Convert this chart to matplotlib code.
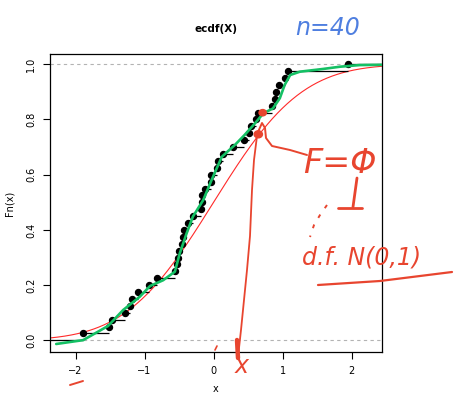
import math
import numpy as np
import matplotlib
matplotlib.use('Agg')
import matplotlib.pyplot as plt

# sample values (sorted)
sample_x = [-1.89, -1.52, -1.47, -1.29, -1.21, -1.18, -1.09, -0.94, -0.82, -0.565,
            -0.53, -0.52, -0.50, -0.46, -0.44, -0.43, -0.37, -0.30, -0.175, -0.17,
            -0.165, -0.12, -0.04, -0.03, 0.05, 0.06, 0.13, 0.28, 0.44, 0.51,
            0.54, 0.61, 0.65, 0.845, 0.89, 0.90, 0.95, 1.03, 1.08, 1.95]

# hand-drawn green curve over the ecdf
green_x = [-2.28, -1.89, -1.53, -1.31, -1.07, -0.92, -0.73, -0.56, -0.49, -0.39,
           -0.30, -0.15, -0.03, 0.12, 0.31, 0.45, 0.60, 0.72, 0.86, 0.96,
           1.03, 1.11, 1.25, 1.59, 1.83, 2.12, 2.44]
green_y = [-0.013, 0.001, 0.052, 0.11, 0.158, 0.197, 0.218, 0.249, 0.315, 0.388,
           0.448, 0.508, 0.58, 0.665, 0.708, 0.744, 0.786, 0.822, 0.84, 0.877,
           0.925, 0.961, 0.973, 0.983, 0.991, 0.997, 0.998]

xlim = (-2.37, 2.44)
ylim = (-0.042, 1.037)

RED = '#e8452f'
BLUE = '#4f7fe0'

fig = plt.figure(figsize=(4.59, 3.94), dpi=100)
ax = fig.add_axes([0.1089, 0.1066, 0.7233, 0.7563])
ax.set_xlim(*xlim)
ax.set_ylim(*ylim)

n = len(sample_x)
xs = np.array(sample_x)
ys = np.arange(1, n + 1) / n

# reference lines at 0 and 1
ax.axhline(0, color='#b3b3b3', lw=0.8, ls=(0, (3, 3)), zorder=1)
ax.axhline(1, color='#b3b3b3', lw=0.8, ls=(0, (3, 3)), zorder=1)

# normal cdf
grid = np.linspace(xlim[0], xlim[1], 400)
phi = [0.5 * (1 + math.erf(g / math.sqrt(2))) for g in grid]
ax.plot(grid, phi, color='#ff2a2a', lw=0.8, zorder=2)

# ecdf steps
right_ends = np.append(xs[1:], xlim[1])
ax.hlines(ys, xs, right_ends, color='black', lw=0.9, zorder=3)
ax.hlines(0, xlim[0], xs[0], color='black', lw=0.9, zorder=3)
ax.plot(xs, ys, 'o', color='black', ms=4.3, zorder=4)

# green curve
ax.plot(green_x, green_y, color='#14c064', lw=1.9, zorder=5, solid_capstyle='round')

ax.set_xticks([-2, -1, 0, 1, 2])
ax.set_xticklabels(['\u22122', '\u22121', '0', '1', '2'])
ax.set_yticks([0, 0.2, 0.4, 0.6, 0.8, 1.0])
ax.set_yticklabels(['0.0', '0.2', '0.4', '0.6', '0.8', '1.0'], rotation=90, va='center')
ax.tick_params(direction='out', length=5, width=0.8, labelsize=7, pad=5)
for s in ax.spines.values():
    s.set_linewidth(0.9)

ax.set_title('ecdf(X)', fontsize=7.5, fontweight='bold', pad=16)
ax.set_ylabel('Fn(x)', fontsize=7, labelpad=8)
ax.set_xlabel('x', fontsize=7, labelpad=6)

# handwritten annotations (figure pixel coordinates, origin at top-left)
def px(x, y):
    return (x / 459.0, 1 - y / 394.0)

def stroke(points, lw=2.0, color=RED, ls='-'):
    pts = [px(a, b) for a, b in points]
    fig.add_artist(plt.Line2D([p[0] for p in pts], [p[1] for p in pts],
                              color=color, lw=lw, ls=ls, solid_capstyle='round',
                              transform=fig.transFigure))

fig.text(*px(328, 28), 'n=40', color=BLUE, fontsize=17, style='italic',
         ha='center', va='center')

# marks on the curves
fig.add_artist(plt.Circle(px(262.7, 112.7), 0.008, color=RED, transform=fig.transFigure))
fig.add_artist(plt.Circle(px(258.3, 134.3), 0.009, color=RED, transform=fig.transFigure))

# vertical line down to x
stroke([(257, 136), (254, 160), (252, 190), (250, 236), (247, 270), (244, 300),
        (241, 330), (238, 357)], lw=1.3)
stroke([(237, 340), (238, 358)], lw=3.2)
fig.text(*px(242, 366), 'x', color=RED, fontsize=17, style='italic',
         ha='center', va='center')

# curl to F = Phi
stroke([(258, 132), (262, 123), (265, 128), (266, 138), (272, 146), (290, 150),
        (307, 155)], lw=1.4)
fig.text(*px(340, 163), 'F=\u03a6', color=RED, fontsize=24, ha='center', va='center',
         style='italic')
stroke([(357, 178), (353, 207)], lw=2.0)
stroke([(338, 208), (362, 208)], lw=2.0)
stroke([(327, 205), (320, 215), (314, 225), (310, 237)], lw=1.4, ls=(0, (2, 4)))

fig.text(*px(362, 258), 'd.f. N(0,1)', color=RED, fontsize=17, style='italic',
         ha='center', va='center')
stroke([(318, 285), (380, 281), (452, 272)], lw=1.6)

stroke([(215, 350), (217, 346)], lw=1.2)
stroke([(70, 385), (83, 381)], lw=1.4)

fig.savefig('out.png', dpi=100)
